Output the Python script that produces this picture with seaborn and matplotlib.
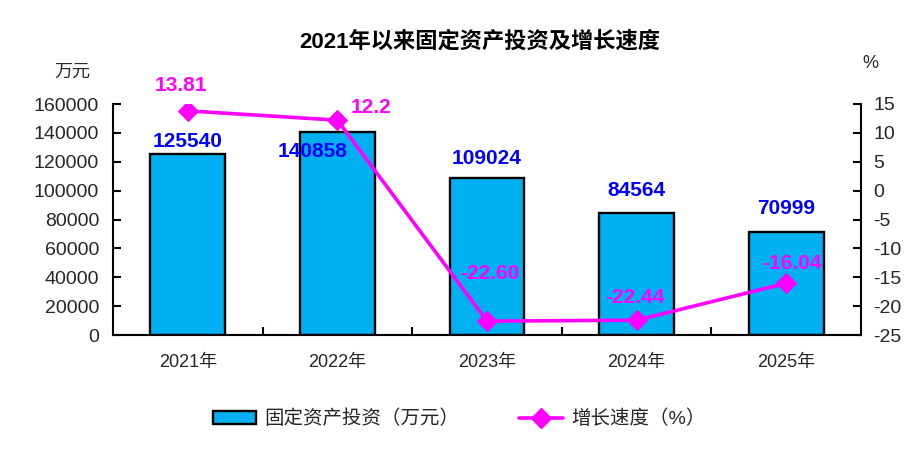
import matplotlib
matplotlib.use("Agg")
import matplotlib.pyplot as plt
import seaborn as sns
import pandas as pd
import numpy as np
from matplotlib.patches import Patch
from matplotlib.lines import Line2D

years = ["2021年", "2022年", "2023年", "2024年", "2025年"]
investment = [125540, 140858, 109024, 84564, 70999]
growth = [13.81, 12.2, -22.60, -22.44, -16.04]
growth_labels = ["13.81", "12.2", "-22.60", "-22.44", "-16.04"]
inv_labels = ["125540", "140858", "109024", "84564", "70999"]
left_ticks = [0, 20000, 40000, 60000, 80000, 100000, 120000, 140000, 160000]
right_ticks = [-25, -20, -15, -10, -5, 0, 5, 10, 15]

title = "2021年以来固定资产投资及增长速度"
left_unit = "万元"
right_unit = "%"
bar_legend = "固定资产投资（万元）"
line_legend = "增长速度（%）"

sns.set_theme(style="white")
plt.rcParams['font.family'] = ['Liberation Sans', 'Noto Sans CJK SC', 'DejaVu Sans']
plt.rcParams['axes.unicode_minus'] = False

BAR_C = "#00B0F0"
LINE_C = "#FF00FF"
LBL_C = "#0000FF"

fig = plt.figure(figsize=(9.24, 4.72), dpi=100)
ax = fig.add_axes([113/924, 1-335/472, (861-113)/924, (335-104)/472])

df = pd.DataFrame({"year": years, "inv": investment, "g": growth})
sns.barplot(data=df, x="year", y="inv", color=BAR_C, edgecolor="black",
            linewidth=1.7, width=0.5, saturation=1, ax=ax)
ax.set_xlim(-0.5, len(years) - 0.5)
ax.set_ylim(left_ticks[0], left_ticks[-1])
ax.set_yticks(left_ticks)
ax.set_xlabel("")
ax.set_ylabel("")

ax2 = ax.twinx()
xpos = np.arange(len(years))
sns.lineplot(x=xpos, y=df["g"], color=LINE_C, linewidth=2.6, marker="D",
             markersize=10, markeredgecolor=LINE_C, ax=ax2)
ax2.set_ylim(right_ticks[0], right_ticks[-1])
ax2.set_yticks(right_ticks)
ax2.set_ylabel("")
ax2.set_xlim(-0.5, len(years) - 0.5)

for a in (ax, ax2):
    a.spines["top"].set_visible(False)
    for s in ["left", "right", "bottom"]:
        a.spines[s].set_color("black")
        a.spines[s].set_linewidth(1.5)
ax.spines["right"].set_visible(False)
ax2.spines["left"].set_visible(False)
ax2.spines["bottom"].set_visible(False)

ax.tick_params(axis="y", direction="in", length=6, width=1.5, color="black",
               labelsize=14, pad=10, left=True)
ax2.tick_params(axis="y", direction="in", length=6, width=1.5, color="black",
                labelsize=14, pad=9, right=True)
ax.set_xticks(xpos)
ax.set_xticklabels(years, fontsize=13)
ax.tick_params(axis="x", length=0, pad=14)
ax.set_xticks(np.arange(0.5, len(years) - 1, 1.0), minor=True)
ax.tick_params(axis="x", which="minor", direction="in", length=6, width=1.5,
               color="black", bottom=True)

# bar value labels (offsets in points)
bar_offsets = [(0, 9), (-18, -14), (0, 14), (0, 16), (0, 17)]
for i, (v, lab) in enumerate(zip(investment, inv_labels)):
    ax.annotate(lab, (i, v), xytext=bar_offsets[i], textcoords="offset points",
                ha="center", va="center", color=LBL_C, fontsize=15,
                fontweight="bold")

line_offsets = [(-5, 18), (24, 9), (2, 34), (-1, 16), (4, 14)]
for i, (v, lab) in enumerate(zip(growth, growth_labels)):
    ax2.annotate(lab, (i, v), xytext=line_offsets[i], textcoords="offset points",
                 ha="center", va="center", color=LINE_C, fontsize=15,
                 fontweight="bold")

fig.text(480/924, 1-42/472, title, ha="center", va="center", fontsize=16,
         fontweight="bold", color="black")
fig.text(72/924, 1-72/472, left_unit, ha="center", va="center", fontsize=13)
fig.text(870/924, 1-64/472, right_unit, ha="center", va="center", fontsize=13)

handles = [Patch(facecolor=BAR_C, edgecolor="black", linewidth=1.7),
           Line2D([0], [0], color=LINE_C, linewidth=2.6, marker="D",
                  markersize=10)]
leg = fig.legend(handles, [bar_legend, line_legend], loc="center",
                 bbox_to_anchor=(459/924, 1-419/472), ncol=2, frameon=False,
                 fontsize=14, handlelength=2.25, handletextpad=0.4,
                 columnspacing=3.1)

fig.savefig("out.png", dpi=100)
